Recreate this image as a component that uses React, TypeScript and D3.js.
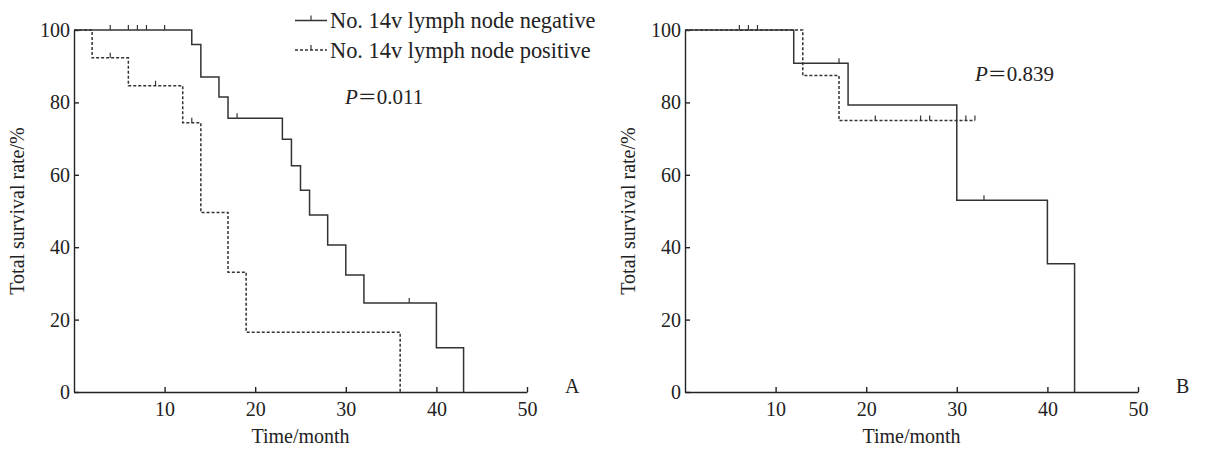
import React, { useEffect, useRef } from 'react';
import * as d3 from 'd3';

// left panel (A)
const negTimesA = [0, 13, 14, 16, 17, 23, 24, 25, 26, 28, 30, 32, 40, 43];
const negSurvA = [100, 96, 87, 81.5, 75.6, 69.8, 62.5, 55.7, 48.9, 40.6, 32.3, 24.6, 12.2, 0];
const negCensorA = [4, 6, 7, 8, 10, 18, 37];
const posTimesA = [0, 2, 6, 12, 14, 17, 19, 36];
const posSurvA = [100, 92.3, 84.6, 74.4, 49.6, 33.1, 16.5, 0];
const posCensorA = [4, 9, 13];

// right panel (B)
const negTimesB = [0, 12, 18, 30, 40, 43];
const negSurvB = [100, 90.8, 79.3, 53, 35.4, 0];
const negCensorB = [6, 7, 8, 17, 33];
const posTimesB = [0, 13, 17, 32];
const posSurvB = [100, 87.4, 75, 75];
const posCensorB = [21, 26, 27, 31, 32];

const xTicks = [10, 20, 30, 40, 50];
const yTicks = [0, 20, 40, 60, 80, 100];
const legendLabels = ['No. 14v lymph node negative', 'No. 14v lymph node positive'];
const pValues = ['0.011', '0.839'];
const panelLabels = ['A', 'B'];

const FONT = '"Liberation Serif", "Times New Roman", serif';

function survAt(times: number[], surv: number[], t: number) {
  let v = surv[0];
  times.forEach((tt, i) => { if (tt <= t) v = surv[i]; });
  return v;
}

export default function App() {
  const svgRef = useRef<SVGSVGElement>(null);

  useEffect(() => {
    const svg = d3.select(svgRef.current);
    svg.selectAll('*').remove();

    const panels = [
      { x0: 74, neg: [negTimesA, negSurvA, negCensorA], pos: [posTimesA, posSurvA, posCensorA], p: pValues[0], pPos: [345, 104], label: panelLabels[0], legend: true },
      { x0: 685, neg: [negTimesB, negSurvB, negCensorB], pos: [posTimesB, posSurvB, posCensorB], p: pValues[1], pPos: [975, 81], label: panelLabels[1], legend: false },
    ];

    panels.forEach((pn) => {
      const x = d3.scaleLinear().domain([0, 50]).range([pn.x0, pn.x0 + 453]);
      const y = d3.scaleLinear().domain([0, 100]).range([392, 30]);

      const g = svg.append('g');

      const xAxis = g.append('g').attr('transform', 'translate(0,392)')
        .call(d3.axisBottom(x).tickValues(xTicks).tickSizeInner(-5).tickSizeOuter(0).tickPadding(10));
      const yAxis = g.append('g').attr('transform', `translate(${pn.x0},0)`)
        .call(d3.axisLeft(y).tickValues(yTicks).tickSizeInner(-5).tickSizeOuter(0).tickPadding(4));
      [xAxis, yAxis].forEach((a) => {
        a.selectAll('path,line').attr('stroke', '#222').attr('stroke-width', 1.4);
        a.selectAll('text').attr('font-family', FONT).attr('font-size', 20).attr('fill', '#222');
      });

      const line = d3.line<[number, number]>()
        .x((d) => x(d[0])).y((d) => y(d[1]))
        .curve(d3.curveStepAfter);

      const series = [
        { data: pn.pos, dash: '3,2' },
        { data: pn.neg, dash: null },
      ];
      series.forEach((s) => {
        const [times, surv, cens] = s.data;
        const pts = times.map((t, i) => [t, surv[i]] as [number, number]);
        g.append('path').attr('d', line(pts))
          .attr('fill', 'none').attr('stroke', '#333').attr('stroke-width', 1.5)
          .attr('stroke-dasharray', s.dash);
        g.selectAll(null).data(cens).join('line')
          .attr('x1', (t) => x(t)).attr('x2', (t) => x(t))
          .attr('y1', (t) => y(survAt(times, surv, t)))
          .attr('y2', (t) => y(survAt(times, surv, t)) - 5)
          .attr('stroke', '#333').attr('stroke-width', 1.2);
      });

      g.append('text')
        .attr('transform', `translate(${pn.x0 - 50},211) rotate(-90)`)
        .attr('text-anchor', 'middle').attr('font-family', FONT).attr('font-size', 20).attr('fill', '#222')
        .text('Total survival rate/%');
      g.append('text')
        .attr('x', x(25)).attr('y', 443)
        .attr('text-anchor', 'middle').attr('font-family', FONT).attr('font-size', 20).attr('fill', '#222')
        .text('Time/month');
      g.append('text')
        .attr('x', x(50) + 38).attr('y', 393)
        .attr('font-family', FONT).attr('font-size', 20).attr('fill', '#222')
        .text(pn.label);

      const pt = g.append('text').attr('x', pn.pPos[0]).attr('y', pn.pPos[1])
        .attr('font-family', FONT).attr('font-size', 21).attr('fill', '#222');
      pt.append('tspan').attr('font-style', 'italic').text('P');
      pt.append('tspan').attr('font-family', '"Noto Sans CJK SC", sans-serif').attr('font-size', 19).text('＝');
      pt.append('tspan').text(pn.p);

      if (pn.legend) {
        legendLabels.forEach((lab, i) => {
          const ly = i === 0 ? 20.5 : 50;
          g.append('line').attr('x1', 295).attr('x2', 327).attr('y1', ly).attr('y2', ly)
            .attr('stroke', '#333').attr('stroke-width', 1.5)
            .attr('stroke-dasharray', i === 0 ? null : '3,2');
          g.append('line').attr('x1', 311).attr('x2', 311).attr('y1', ly).attr('y2', ly - 5)
            .attr('stroke', '#333').attr('stroke-width', 1.2);
          g.append('text').attr('x', 330).attr('y', ly + 7.5)
            .attr('font-family', FONT).attr('font-size', 22.4).attr('fill', '#222')
            .text(lab);
        });
      }
    });
  }, []);

  return (
    <svg ref={svgRef} width={1210} height={455}
      style={{ position: 'absolute', left: 0, top: 0, background: '#fff' }} />
  );
}
